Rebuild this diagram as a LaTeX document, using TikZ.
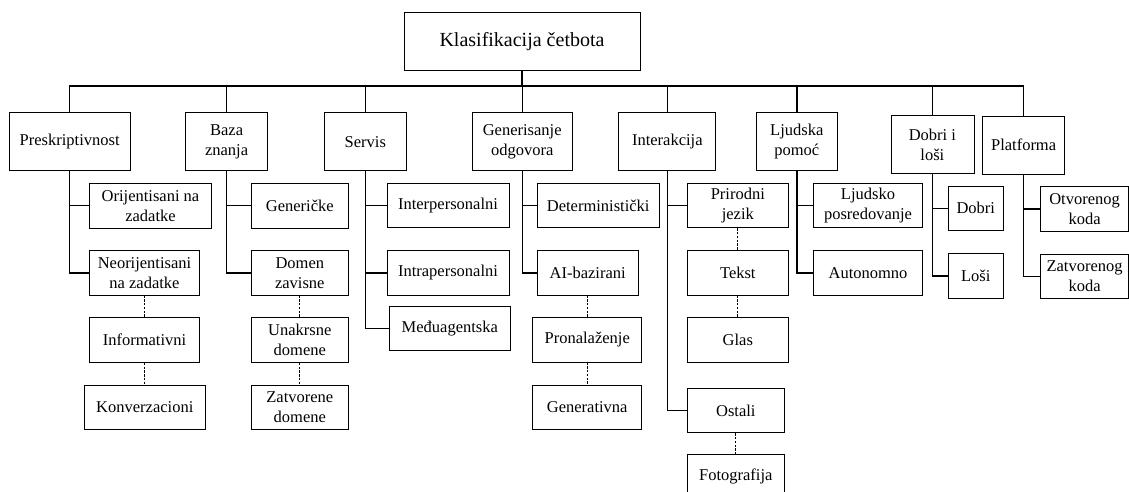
\documentclass[tikz,border=0pt]{standalone}
\usepackage{fontspec}
\setmainfont{Liberation Serif}
\begin{document}
\begin{tikzpicture}[x=1pt,y=-1pt,
  box/.style={draw=black, line width=0.8pt, inner sep=0pt, align=center,
    font=\fontsize{16.5}{20}\selectfont},
  topbox/.style={box, font=\fontsize{20}{24}\selectfont},
  conn/.style={draw=black, line width=1.4pt, line cap=rect},
  dotconn/.style={draw=black, line width=1.3pt, dash pattern=on 2.4pt off 1.4pt}]
\useasboundingbox (0,0) rectangle (1129,492);
\clip (0,0) rectangle (1129,492);
% top
\node[topbox, minimum width=236pt, minimum height=58pt] (K) at (522,41.7) {Klasifikacija četbota};
% level 1
\node[box, minimum width=120.7pt, minimum height=58pt] (P1) at (69.7,141.7) {Preskriptivnost};
\node[box, minimum width=81.6pt, minimum height=58pt] (P2) at (226.6,141.7) {Baza\\znanja};
\node[box, minimum width=82pt, minimum height=58pt] (P3) at (365.3,141.7) {Servis};
\node[box, minimum width=100.6pt, minimum height=58pt] (P4) at (522.2,141.7) {Generisanje\\odgovora};
\node[box, minimum width=97pt, minimum height=58pt] (P5) at (667.3,141.7) {Interakcija};
\node[box, minimum width=81.7pt, minimum height=58pt] (P6) at (796.8,141.7) {Ljudska\\pomoć};
\node[box, minimum width=83pt, minimum height=57.3pt] (P7) at (932.4,144.4) {Dobri i\\loši};
\node[box, minimum width=81.6pt, minimum height=58.3pt] (P8) at (1023.6,145.2) {Platforma};
% Preskriptivnost
\node[box, minimum width=121.6pt, minimum height=44.4pt] (c11) at (150.5,205.7) {Orijentisani na\\zadatke};
\node[box, minimum width=109.6pt, minimum height=44.4pt] (c12) at (144.5,272.8) {Neorijentisani\\na zadatke};
\node[box, minimum width=109.6pt, minimum height=44.6pt] (c13) at (144.5,340) {Informativni};
\node[box, minimum width=121.7pt, minimum height=44.4pt] (c14) at (144.8,407.2) {Konverzacioni};
% Baza znanja
\node[box, minimum width=97pt, minimum height=44.4pt] (c21) at (299.8,205.7) {Generičke};
\node[box, minimum width=97pt, minimum height=44.4pt] (c22) at (299.8,272.8) {Domen\\zavisne};
\node[box, minimum width=97pt, minimum height=44.6pt] (c23) at (299.8,340) {Unakrsne\\domene};
\node[box, minimum width=97pt, minimum height=44.4pt] (c24) at (299.8,407.2) {Zatvorene\\domene};
% Servis
\node[box, minimum width=122pt, minimum height=44pt] (c31) at (448,205.7) {Interpersonalni};
\node[box, minimum width=122pt, minimum height=44.4pt] (c32) at (448,272.8) {Intrapersonalni};
\node[box, minimum width=121.7pt, minimum height=44.7pt] (c33) at (449.8,328.4) {Međuagentska};
% Generisanje odgovora
\node[box, minimum width=121.7pt, minimum height=44pt] (c41) at (598.2,205.7) {Deterministički};
\node[box, minimum width=100.7pt, minimum height=44.4pt] (c42) at (587.7,272.8) {AI-bazirani};
\node[box, minimum width=109pt, minimum height=44.7pt] (c43) at (587.2,339.7) {Pronalaženje};
\node[box, minimum width=109pt, minimum height=44.4pt] (c44) at (587.2,407.2) {Generativna};
% Interakcija
\node[box, minimum width=101pt, minimum height=44.4pt] (c51) at (737.8,205.5) {Prirodni\\jezik};
\node[box, minimum width=101pt, minimum height=44.4pt] (c52) at (737.8,272.8) {Tekst};
\node[box, minimum width=101pt, minimum height=44.6pt] (c53) at (737.8,340) {Glas};
\node[box, minimum width=97pt, minimum height=44.4pt] (c54) at (735.8,410.5) {Ostali};
\node[box, minimum width=97pt, minimum height=44.4pt] (c55) at (735.8,476.2) {Fotografija};
% Ljudska pomoc
\node[box, minimum width=109.4pt, minimum height=44.4pt] (c61) at (868,205.5) {Ljudsko\\posredovanje};
\node[box, minimum width=109.4pt, minimum height=44.4pt] (c62) at (868,272.8) {Autonomno};
% Dobri i losi
\node[box, minimum width=55pt, minimum height=44.7pt] (c71) at (975.8,208.3) {Dobri};
\node[box, minimum width=55pt, minimum height=45pt] (c72) at (975.8,275.8) {Loši};
% Platforma
\node[box, minimum width=87.8pt, minimum height=44.3pt] (c81) at (1084.6,208.8) {Otvorenog\\koda};
\node[box, minimum width=87.8pt, minimum height=44.3pt] (c82) at (1084.6,276.2) {Zatvorenog\\koda};
% bus
\coordinate (bus) at (0,86);
\draw[conn] (K.south) -- (K.south |- bus);
\draw[conn] (P1.north |- bus) -- (P8.north |- bus);
\foreach \p in {P1,P2,P3,P4,P5,P6,P7,P8}
  \draw[conn] (\p.north |- bus) -- (\p.north);
% solid branches
\draw[conn] (P1.south) |- (c12.west);
\draw[conn] (P1.south |- c11.west) -- (c11.west);
\draw[conn] (P2.south) |- (c22.west);
\draw[conn] (P2.south |- c21.west) -- (c21.west);
\draw[conn] (P3.south) |- (c33.west);
\draw[conn] (P3.south |- c31.west) -- (c31.west);
\draw[conn] (P3.south |- c32.west) -- (c32.west);
\draw[conn] (P4.south) |- (c42.west);
\draw[conn] (P4.south |- c41.west) -- (c41.west);
\draw[conn] (P5.south) |- (c54.west);
\draw[conn] (P5.south |- c51.west) -- (c51.west);
\draw[conn] (P6.south) |- (c62.west);
\draw[conn] (P6.south |- c61.west) -- (c61.west);
\draw[conn] (P7.south) |- (c72.west);
\draw[conn] (P7.south |- c71.west) -- (c71.west);
\draw[conn] (P8.south) |- (c82.west);
\draw[conn] (P8.south |- c81.west) -- (c81.west);
% dotted links
\draw[dotconn] (c12.south) -- (c13.north);
\draw[dotconn] (c13.south) -- (c14.north -| c13.south);
\draw[dotconn] (c22.south) -- (c23.north);
\draw[dotconn] (c23.south) -- (c24.north);
\draw[dotconn] (c42.south) -- (c43.north -| c42.south);
\draw[dotconn] (c43.south) -- (c44.north);
\draw[dotconn] (c51.south) -- (c52.north);
\draw[dotconn] (c52.south) -- (c53.north);
\draw[dotconn] (c54.south) -- (c55.north);
\end{tikzpicture}
\end{document}
